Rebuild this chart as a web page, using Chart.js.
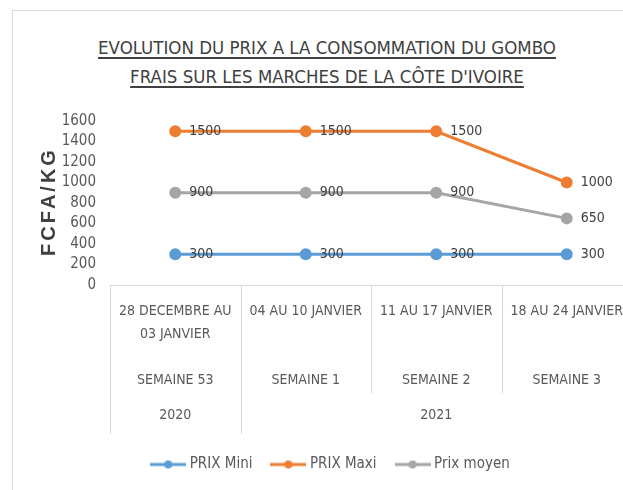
<!DOCTYPE html>
<html>
<head>
<meta charset="utf-8">
<script src="https://cdn.jsdelivr.net/npm/chart.js@4"></script>
<style>
  html, body { margin: 0; padding: 0; background: #fff; overflow: hidden; }
  body { width: 623px; height: 490px; position: relative; }
  #frame { position: absolute; left: 12px; top: 10px; width: 700px; height: 600px; border: 1px solid #d9d9d9; box-sizing: border-box; }
  #title { position: absolute; left: 0; top: 33px; width: 654px; text-align: center; font-family: 'Liberation Sans Narrow', 'DejaVu Sans Condensed', sans-serif; font-size: 18.5px; line-height: 29px; color: #404040; }
  #title span { text-decoration: underline; text-decoration-thickness: 2px; text-underline-offset: 3px; }
  #wrap { position: absolute; left: 0; top: 0; width: 664px; height: 490px; }
</style>
</head>
<body>
<div id="frame"></div>
<div id="title"><span>EVOLUTION DU PRIX A LA CONSOMMATION DU GOMBO</span><br><span>FRAIS SUR LES MARCHES DE LA CÔTE D'IVOIRE</span></div>
<div id="wrap"><canvas id="chart"></canvas></div>
<script>
// values
const dateLabels = [['28 DECEMBRE AU', '03 JANVIER'], ['04 AU 10 JANVIER'], ['11 AU 17 JANVIER'], ['18 AU 24 JANVIER']];
const weekLabels = ['SEMAINE 53', 'SEMAINE 1', 'SEMAINE 2', 'SEMAINE 3'];
const yearLabels = ['2020', '2021', '2021', '2021'];
const prixMini = [300, 300, 300, 300];
const prixMaxi = [1500, 1500, 1500, 1000];
const prixMoyen = [900, 900, 900, 650];
const yTicks = [0, 200, 400, 600, 800, 1000, 1200, 1400, 1600];

const NARROW = "'Liberation Sans Narrow', 'DejaVu Sans Condensed', sans-serif";
const GRID = '#d9d9d9';

// each tick: date (2 lines), blank line, week
const labels = dateLabels.map((d, i) => [d[0], d[1] || '', '', weekLabels[i]]);

// little line+dot icon for the legend
const legendIcon = (color) => {
    const c = document.createElement('canvas');
    c.width = 36; c.height = 10;
    const g = c.getContext('2d');
    g.strokeStyle = color; g.lineWidth = 3;
    g.beginPath(); g.moveTo(0, 5); g.lineTo(36, 5); g.stroke();
    g.fillStyle = color;
    g.beginPath(); g.arc(18, 5, 4, 0, Math.PI * 2); g.fill();
    return c;
};

const series = [
    { label: 'PRIX Mini', data: prixMini, color: '#5B9BD5' },
    { label: 'PRIX Maxi', data: prixMaxi, color: '#ED7D31' },
    { label: 'Prix moyen', data: prixMoyen, color: '#A5A5A5' }
];

// value labels right of each point, year row, category separators, y title
const extras = {
    id: 'extras',
    afterDatasetsDraw(chart) {
        const ctx = chart.ctx;
        ctx.save();
        ctx.font = '14px ' + NARROW;
        ctx.fillStyle = '#404040';
        ctx.textAlign = 'left';
        ctx.textBaseline = 'middle';
        chart.data.datasets.forEach((ds, i) => {
            chart.getDatasetMeta(i).data.forEach((pt, j) => {
                ctx.fillText(String(ds.data[j]), pt.x + 14, pt.y);
            });
        });
        ctx.restore();
    },
    afterDraw(chart) {
        const ctx = chart.ctx;
        const x = chart.scales.x;
        const area = chart.chartArea;
        const n = yearLabels.length;
        const half = (x.getPixelForValue(1) - x.getPixelForValue(0)) / 2;
        const edge = (b) => x.getPixelForValue(b) - half;
        ctx.save();
        ctx.strokeStyle = GRID;
        ctx.lineWidth = 1;
        for (let b = 0; b <= n; b++) {
            const long = b === 0 || b === n || yearLabels[b] !== yearLabels[b - 1];
            const px = Math.round(edge(b)) + 0.5;
            ctx.beginPath();
            ctx.moveTo(px, area.bottom);
            ctx.lineTo(px, area.bottom + (long ? 149 : 108));
            ctx.stroke();
        }
        // year row
        ctx.font = '14px ' + NARROW;
        ctx.fillStyle = '#595959';
        ctx.textAlign = 'center';
        ctx.textBaseline = 'middle';
        let start = 0;
        for (let b = 1; b <= n; b++) {
            if (b === n || yearLabels[b] !== yearLabels[start]) {
                ctx.fillText(yearLabels[start], (edge(start) + edge(b)) / 2, area.bottom + 130);
                start = b;
            }
        }
        // y axis title
        ctx.translate(49, (area.top + area.bottom) / 2);
        ctx.rotate(-Math.PI / 2);
        ctx.font = "bold 20px 'Liberation Sans', sans-serif";
        ctx.letterSpacing = '3px';
        ctx.fillStyle = '#404040';
        ctx.fillText('FCFA/KG', 1.5, 0);
        ctx.restore();
    }
};

new Chart(document.getElementById('chart'), {
    type: 'line',
    data: {
        labels: labels,
        datasets: series.map(s => ({
            label: s.label,
            data: s.data,
            borderColor: s.color,
            backgroundColor: s.color,
            pointBackgroundColor: s.color,
            pointBorderColor: s.color,
            borderWidth: 3,
            pointRadius: 4.5,
            tension: 0
        }))
    },
    options: {
        responsive: true,
        maintainAspectRatio: false,
        animation: false,
        layout: { padding: { top: 121, left: 32, right: 32, bottom: 8 } },
        scales: {
            x: {
                type: 'category',
                offset: true,
                grid: { display: false },
                border: { color: GRID, width: 1 },
                ticks: {
                    autoSkip: false, maxRotation: 0, minRotation: 0, padding: 7,
                    color: '#595959',
                    font: { family: NARROW, size: 14, lineHeight: 1.643 }
                },
                afterFit: (scale) => { scale.height = 150; }
            },
            y: {
                min: 0,
                max: 1600,
                grid: { display: false },
                border: { display: false },
                afterBuildTicks: (scale) => { scale.ticks = yTicks.map(v => ({ value: v })); },
                ticks: {
                    autoSkip: false,
                    padding: 6,
                    color: '#595959',
                    font: { family: NARROW, size: 15 },
                    callback: (v) => String(v)
                },
                afterFit: (scale) => { scale.width = 78; }
            }
        },
        plugins: {
            title: { display: false },
            tooltip: { enabled: false },
            legend: {
                position: 'bottom',
                labels: {
                    usePointStyle: true,
                    pointStyleWidth: 28,
                    padding: 22,
                    color: '#595959',
                    font: { family: NARROW, size: 15 },
                    generateLabels: (chart) => Chart.defaults.plugins.legend.labels.generateLabels(chart)
                        .map((item, i) => Object.assign(item, { pointStyle: legendIcon(series[i].color) }))
                }
            }
        }
    },
    plugins: [extras]
});
</script>
</body>
</html>
